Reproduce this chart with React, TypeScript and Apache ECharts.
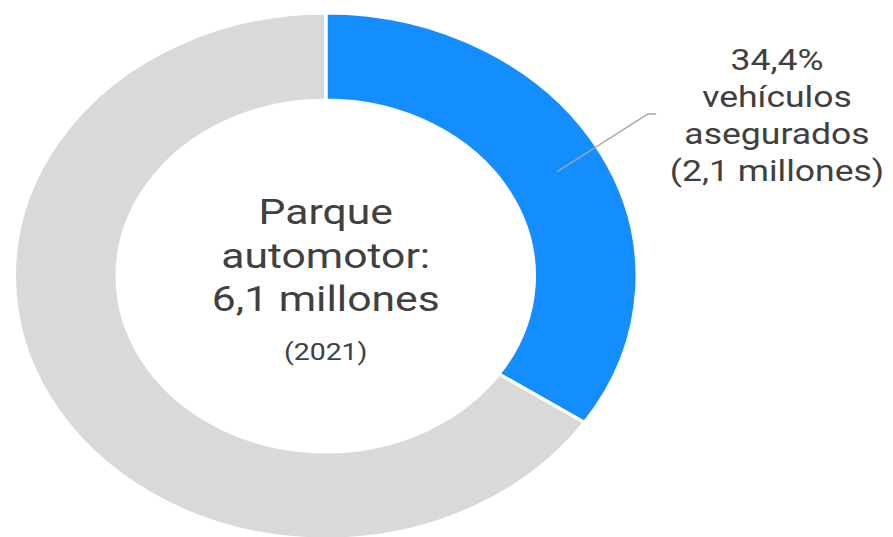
import React, { useEffect, useRef } from "react";
import * as echarts from "echarts";

const categories = ["Vehículos asegurados", "Vehículos no asegurados"];
const shares = [34.4, 65.6];
const colors = ["#148EFF", "#D9D9D9"];
const centerLines = ["Parque", "automotor:", "6,1 millones"];
const centerYear = "(2021)";
const labelLines = ["34,4%", "vehículos", "asegurados", "(2,1 millones)"];

const W = 893;
const H = 537;
const SX = 1.1845;
const CW = Math.round(W / SX);

export default function App() {
  const ref = useRef<HTMLDivElement>(null);
  useEffect(() => {
    if (!ref.current) return;
    const chart = echarts.init(ref.current, undefined, { renderer: "svg" });
    const font = "Roboto, 'Noto Sans', sans-serif";
    const textColor = "#404040";
    const cx = 275;
    const graphic: any[] = [];
    const cy = [212, 256, 299];
    centerLines.forEach((t, i) => {
      graphic.push({
        type: "text",
        x: cx,
        y: cy[i],
        z: 100,
        style: { text: t, fill: textColor, font: `36px ${font}`, align: "center", verticalAlign: "middle" },
      });
    });
    graphic.push({
      type: "text",
      x: cx,
      y: 352,
      z: 100,
      style: { text: centerYear, fill: textColor, font: `24px ${font}`, align: "center", verticalAlign: "middle" },
    });
    labelLines.forEach((t, i) => {
      graphic.push({
        type: "text",
        x: 656,
        y: 60 + i * 37,
        z: 100,
        style: { text: t, fill: textColor, font: `30px ${font}`, align: "center", verticalAlign: "middle" },
      });
    });
    graphic.push({
      type: "polyline",
      z: 100,
      shape: { points: [[470, 172], [547, 114], [554, 114]] },
      style: { stroke: "#A6A6A6", lineWidth: 1.3, fill: "none" },
    });
    chart.setOption({
      animation: false,
      graphic,
      series: [
        {
          type: "pie",
          z: 1,
          center: [275, 276],
          radius: [176, 263],
          startAngle: 90,
          clockwise: true,
          label: { show: false },
          labelLine: { show: false },
          silent: true,
          itemStyle: { borderColor: "#ffffff", borderWidth: 3 },
          data: categories.map((c, i) => ({ name: c, value: shares[i], itemStyle: { color: colors[i] } })),
        },
      ],
    });
    return () => chart.dispose();
  }, []);
  return (
    <div style={{ position: "fixed", left: 0, top: 0, width: W, height: H, overflow: "hidden", background: "#fff" }}>
      <div
        ref={ref}
        style={{ width: CW, height: H, transform: `scaleX(${SX})`, transformOrigin: "0 0" }}
      />
    </div>
  );
}
